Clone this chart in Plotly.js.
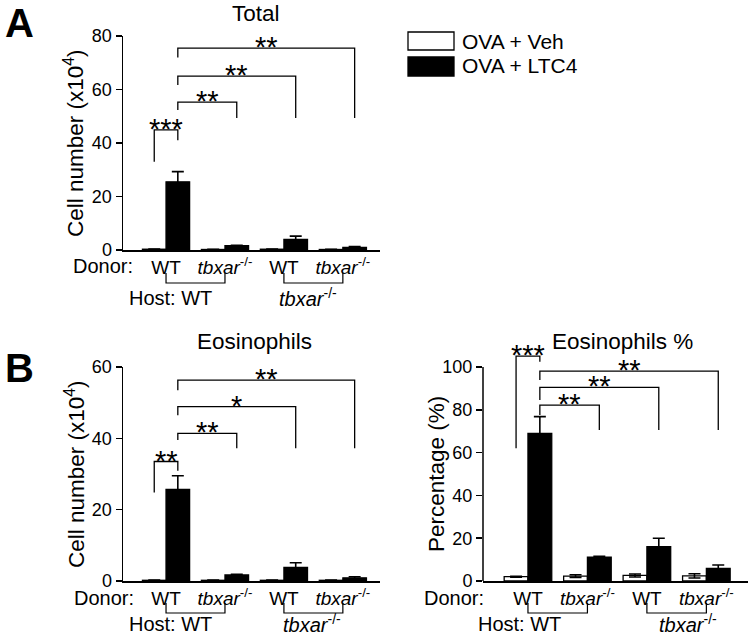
<!DOCTYPE html>
<html>
<head>
<meta charset="utf-8">
<script src="https://cdn.plot.ly/plotly-3.0.1.min.js"></script>
<style>html,body{margin:0;padding:0;background:#fff}#chart{width:750px;height:636px}</style>
</head>
<body>
<div id="chart"></div>
<script>
// ---------- data ----------
const groups = [0, 1, 2, 3];
const tickText = ['WT', '<i>tbxar</i><sup>-/-</sup>', 'WT', '<i>tbxar</i><sup>-/-</sup>'];
const seriesNames = ['OVA + Veh', 'OVA + LTC4'];

// Panel A: Total cell number (x10^4)
const totalVeh = [0.3, 0.2, 0.3, 0.2];
const totalVehErr = [0.1, 0.1, 0.1, 0.1];
const totalLTC4 = [25.5, 1.6, 4.0, 1.0];
const totalLTC4Err = [3.8, 0.2, 1.2, 0.3];

// Panel B left: Eosinophils cell number (x10^4)
const eosVeh = [0.2, 0.2, 0.2, 0.2];
const eosVehErr = [0.1, 0.1, 0.1, 0.1];
const eosLTC4 = [25.7, 1.7, 3.8, 0.9];
const eosLTC4Err = [3.8, 0.2, 1.3, 0.3];

// Panel B right: Eosinophils %
const pctVeh = [2.0, 2.3, 2.6, 2.4];
const pctVehErr = [0.2, 0.6, 0.7, 1.0];
const pctLTC4 = [69, 11.1, 16.0, 5.9];
const pctLTC4Err = [7.8, 0.5, 4.0, 1.6];

// significance brackets (x in group units, y in data units)
const sigA_x0 = [-0.2, 0.2, 0.2, 0.2];
const sigA_x1 = [0.2, 1.2, 2.2, 3.2];
const sigA_y = [44.9, 55.3, 65.0, 75.5];
const sigA_left = [33.0, 52.3, 61.7, 72.0];
const sigA_right = [41.0, 49.3, 49.3, 49.3];
const sigA_text = ['***', '**', '**', '**'];

const sigB_x0 = [-0.2, 0.2, 0.2, 0.2];
const sigB_x1 = [0.2, 1.2, 2.2, 3.2];
const sigB_y = [33.5, 41.4, 48.9, 56.3];
const sigB_left = [24.8, 39.5, 46.5, 53.5];
const sigB_right = [30.9, 37.2, 37.2, 37.2];
const sigB_text = ['**', '**', '*', '**'];

const sigC_x0 = [-0.2, 0.2, 0.2, 0.2];
const sigC_x1 = [0.2, 1.2, 2.2, 3.2];
const sigC_y = [105.1, 82.2, 90.5, 98.1];
const sigC_left = [62.0, 77.6, 84.6, 93.9];
const sigC_right = [102.5, 70.6, 70.6, 70.6];
const sigC_text = ['***', '**', '**', '**'];

// ---------- helpers ----------
const W = 750, H = 636;
const px = v => v / W;
const py = v => 1 - v / H;
const FONT = 'Liberation Sans, Arial, Helvetica, sans-serif';

function bars(x, vals, errs, name, fill, xa, ya) {
  return {
    type: 'bar', x: x, y: vals, name: name, xaxis: xa, yaxis: ya,
    marker: {color: fill, line: {color: '#000', width: 1.3}},
    error_y: {type: 'data', array: errs, visible: true, color: '#000', thickness: 1.6, width: 6},
    showlegend: false, hoverinfo: 'y'
  };
}

const data = [
  bars(groups, totalVeh, totalVehErr, seriesNames[0], '#fff', 'x', 'y'),
  bars(groups, totalLTC4, totalLTC4Err, seriesNames[1], '#000', 'x', 'y'),
  bars(groups, eosVeh, eosVehErr, seriesNames[0], '#fff', 'x2', 'y2'),
  bars(groups, eosLTC4, eosLTC4Err, seriesNames[1], '#000', 'x2', 'y2'),
  bars(groups, pctVeh, pctVehErr, seriesNames[0], '#fff', 'x3', 'y3'),
  bars(groups, pctLTC4, pctLTC4Err, seriesNames[1], '#000', 'x3', 'y3')
];

const shapes = [];
const annotations = [];

function addBrackets(x0s, x1s, ys, ls, rs, texts, xa, ya) {
  for (let i = 0; i < x0s.length; i++) {
    shapes.push({
      type: 'path', xref: xa, yref: ya,
      path: `M ${x0s[i]},${ls[i]} L ${x0s[i]},${ys[i]} L ${x1s[i]},${ys[i]} L ${x1s[i]},${rs[i]}`,
      line: {color: '#000', width: 1.3}
    });
    annotations.push({
      xref: xa, yref: ya, x: (x0s[i] + x1s[i]) / 2, y: ys[i], text: texts[i],
      showarrow: false, yanchor: 'middle', xanchor: 'center', yshift: 1,
      font: {family: FONT, size: 29, color: '#000'}
    });
  }
}
addBrackets(sigA_x0, sigA_x1, sigA_y, sigA_left, sigA_right, sigA_text, 'x', 'y');
addBrackets(sigB_x0, sigB_x1, sigB_y, sigB_left, sigB_right, sigB_text, 'x2', 'y2');
addBrackets(sigC_x0, sigC_x1, sigC_y, sigC_left, sigC_right, sigC_text, 'x3', 'y3');

// host brackets under donor labels
function hostBrackets(xa, yLine, yTop) {
  [[0, 1], [2, 3]].forEach(p => {
    shapes.push({
      type: 'path', xref: xa, yref: 'paper',
      path: `M ${p[0]},${py(yTop)} L ${p[0]},${py(yLine)} L ${p[1]},${py(yLine)} L ${p[1]},${py(yTop)}`,
      line: {color: '#000', width: 1.2}
    });
  });
}
hostBrackets('x', 283, 273);
hostBrackets('x2', 613, 603);
hostBrackets('x3', 613, 603);

// y axis line for right panel (range extends above 100 for brackets)
shapes.push({type: 'line', xref: 'x3 domain', yref: 'y3', x0: 0, x1: 0, y0: 0, y1: 100,
  line: {color: '#000', width: 1.5}});

// legend
shapes.push({type: 'rect', xref: 'paper', yref: 'paper', x0: px(408), x1: px(454), y0: py(50), y1: py(32),
  fillcolor: '#fff', line: {color: '#000', width: 1.3}});
shapes.push({type: 'rect', xref: 'paper', yref: 'paper', x0: px(408), x1: px(454), y0: py(76), y1: py(57),
  fillcolor: '#000', line: {color: '#000', width: 1.3}});

function txt(x, y, text, size, opts) {
  annotations.push(Object.assign({
    xref: 'paper', yref: 'paper', x: px(x), y: py(y), text: text, showarrow: false,
    xanchor: 'center', yanchor: 'middle', font: {family: FONT, size: size, color: '#000'}
  }, opts || {}));
}
function hostTxt(xa, x, y, text) {
  annotations.push({xref: xa, yref: 'paper', x: x, y: py(y), text: text, showarrow: false,
    xanchor: 'center', yanchor: 'middle', borderpad: 0, font: {family: FONT, size: 20, color: '#000'}});
}
function yTitle(ya, x, y, text) {
  annotations.push({xref: 'paper', yref: ya, x: px(x), y: y, text: text, textangle: -90,
    showarrow: false, xanchor: 'center', yanchor: 'middle', font: {family: FONT, size: 22.5, color: '#000'}});
}

txt(460, 41, seriesNames[0], 21, {xanchor: 'left'});
txt(460, 66, seriesNames[1], 21, {xanchor: 'left'});

// panel letters and titles
txt(19, 23, '<b>A</b>', 40);
txt(19, 368, '<b>B</b>', 40);
txt(256, 13, 'Total', 22.5);
txt(254, 341, 'Eosinophils', 22.5);
txt(622, 341, 'Eosinophils %', 22.5);

// y axis titles
yTitle('y', 74, 40, 'Cell number (x10<sup>4</sup>)');
yTitle('y2', 75, 30, 'Cell number (x10<sup>4</sup>)');
yTitle('y3', 436, 50, 'Percentage (%)');

// Donor / Host labels
txt(103, 266, 'Donor:', 20, {borderpad: 0});
txt(104, 598, 'Donor:', 20, {borderpad: 0});
txt(454, 598, 'Donor:', 20, {borderpad: 0});
hostTxt('x', 0.07, 298, 'Host: WT');
hostTxt('x', 2.41, 297, '<i>tbxar</i><sup>-/-</sup>');
hostTxt('x2', 0.07, 624, 'Host: WT');
hostTxt('x2', 2.47, 623, '<i>tbxar</i><sup>-/-</sup>');
hostTxt('x3', -0.15, 624, 'Host: WT');
hostTxt('x3', 2.69, 623, '<i>tbxar</i><sup>-/-</sup>');

function xAxis(domain, range, anchor) {
  return {
    domain: domain, range: range, anchor: anchor, tickvals: groups, ticktext: tickText,
    showline: true, linecolor: '#000', linewidth: 1.5, ticks: '', showgrid: false, zeroline: false,
    tickfont: {family: FONT, size: 19, color: '#000'}, fixedrange: true
  };
}
function yAxis(domain, range, tickvals, anchor, showline) {
  return {
    domain: domain, range: range, anchor: anchor, tickvals: tickvals,
    showline: showline, linecolor: '#000', linewidth: 1.5, ticks: 'outside', ticklen: 6, tickwidth: 1.5,
    tickcolor: '#000', showgrid: false, zeroline: false,
    tickfont: {family: FONT, size: 18, color: '#000'}, fixedrange: true
  };
}

const layout = {
  width: W, height: H,
  margin: {l: 0, r: 0, t: 0, b: 0},
  paper_bgcolor: '#fff', plot_bgcolor: 'rgba(0,0,0,0)',
  barmode: 'group', bargap: 0.2, bargroupgap: 0,
  showlegend: false,
  font: {family: FONT, color: '#000'},
  xaxis: xAxis([px(123), px(380)], [-0.73, 3.63], 'y'),
  yaxis: yAxis([py(250), py(36)], [0, 80], [0, 20, 40, 60, 80], 'x', true),
  xaxis2: xAxis([px(123), px(380)], [-0.73, 3.63], 'y2'),
  yaxis2: yAxis([py(581), py(367)], [0, 60], [0, 20, 40, 60], 'x2', true),
  xaxis3: xAxis([px(483), px(748)], [-0.756, 3.70], 'y3'),
  yaxis3: yAxis([py(581), py(345.6)], [0, 110], [0, 20, 40, 60, 80, 100], 'x3', false),
  shapes: shapes,
  annotations: annotations
};

Plotly.newPlot('chart', data, layout, {displayModeBar: false, staticPlot: true});
</script>
</body>
</html>
